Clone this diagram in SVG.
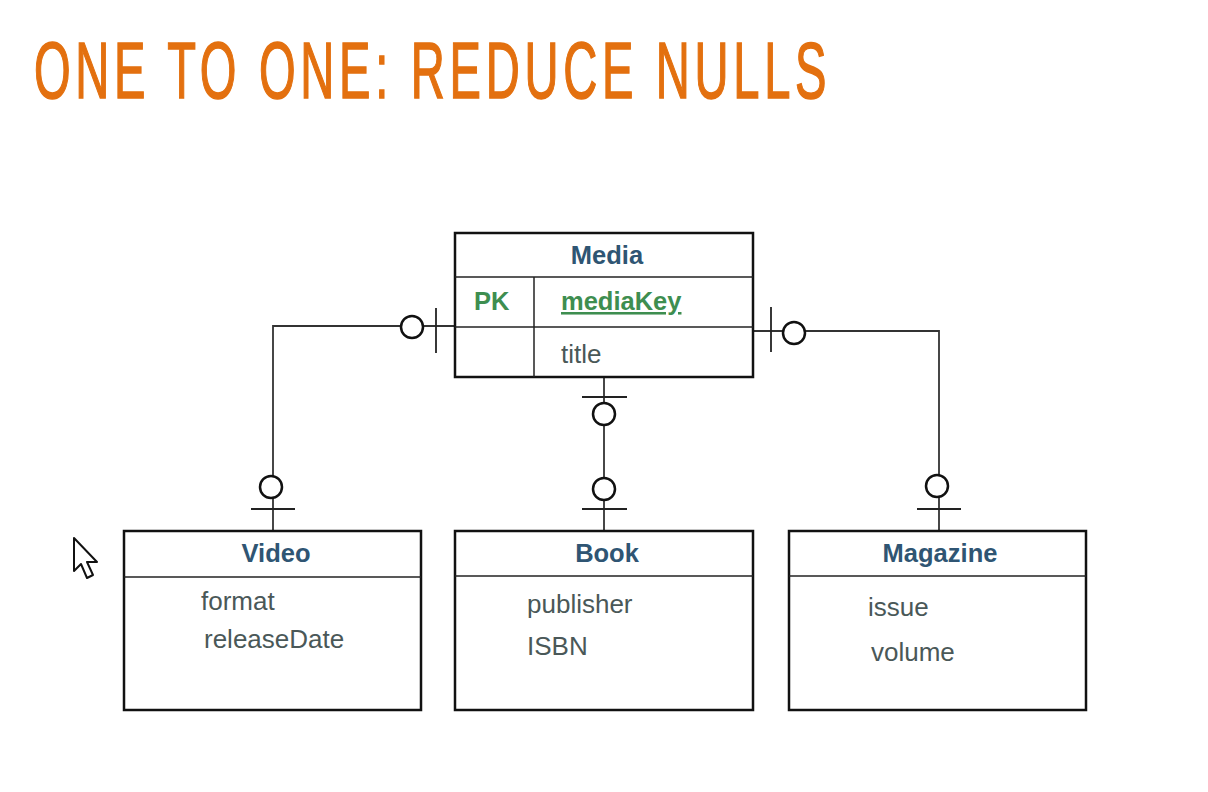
<svg xmlns="http://www.w3.org/2000/svg" width="1208" height="792" viewBox="0 0 1208 792">
<style>
.box{fill:#fff;stroke:#111;stroke-width:2.5}
.sep{stroke:#222;stroke-width:1.5;fill:none}
.hdr{font-family:"Liberation Sans",Arial,sans-serif;font-size:25.5px;font-weight:bold;fill:#2f5573;text-anchor:middle}
.attr{font-family:"Liberation Sans",Arial,sans-serif;font-size:26px;fill:#4a5858}
.pk{font-family:"Liberation Sans",Arial,sans-serif;font-size:25.5px;font-weight:bold;fill:#3e8e50}
.ln{stroke:#333;stroke-width:1.8;fill:none}
.circ{fill:#fff;stroke:#111;stroke-width:2.5}
.tick{stroke:#222;stroke-width:1.8}
</style>
<rect width="1208" height="792" fill="#fff"/>
<text transform="translate(34,98) scale(0.589,1)" x="0" y="0" font-family="'Liberation Sans',Arial,sans-serif" font-size="80" fill="#e3700f" stroke="#e3700f" stroke-width="1.5" letter-spacing="8">ONE TO ONE: REDUCE NULLS</text>

<g id="connectors">
  <polyline class="ln" points="455,326 273,326 273,531"/>
  <line class="tick" x1="436" y1="308" x2="436" y2="353"/>
  <circle class="circ" cx="412" cy="327" r="11"/>
  <line class="tick" x1="251" y1="509" x2="295" y2="509"/>
  <circle class="circ" cx="271" cy="487" r="11"/>

  <line class="ln" x1="604" y1="377" x2="604" y2="531"/>
  <line class="tick" x1="582" y1="397" x2="627" y2="397"/>
  <circle class="circ" cx="604" cy="414" r="11"/>
  <circle class="circ" cx="604" cy="489" r="11"/>
  <line class="tick" x1="582" y1="509" x2="627" y2="509"/>

  <polyline class="ln" points="753,331 939,331 939,531"/>
  <line class="tick" x1="771" y1="307" x2="771" y2="352"/>
  <circle class="circ" cx="794" cy="333" r="11"/>
  <circle class="circ" cx="937" cy="486" r="11"/>
  <line class="tick" x1="917" y1="509" x2="961" y2="509"/>
</g>

<g id="media">
  <rect class="box" x="455" y="233" width="298" height="144"/>
  <line class="sep" x1="455" y1="277" x2="753" y2="277"/>
  <line class="sep" x1="455" y1="327" x2="753" y2="327"/>
  <line class="sep" x1="534" y1="277" x2="534" y2="377"/>
  <text class="hdr" x="607" y="264">Media</text>
  <text class="pk" x="474" y="310">PK</text>
  <text class="pk" x="561" y="310" text-decoration="underline">mediaKey</text>
  <text class="attr" x="561" y="363">title</text>
</g>

<g id="video">
  <rect class="box" x="124" y="531" width="297" height="179"/>
  <line class="sep" x1="124" y1="577" x2="421" y2="577"/>
  <text class="hdr" x="276" y="562">Video</text>
  <text class="attr" x="201" y="610">format</text>
  <text class="attr" x="204" y="648">releaseDate</text>
</g>

<g id="book">
  <rect class="box" x="455" y="531" width="298" height="179"/>
  <line class="sep" x1="455" y1="576" x2="753" y2="576"/>
  <text class="hdr" x="607" y="562">Book</text>
  <text class="attr" x="527" y="613">publisher</text>
  <text class="attr" x="527" y="655">ISBN</text>
</g>

<g id="magazine">
  <rect class="box" x="789" y="531" width="297" height="179"/>
  <line class="sep" x1="789" y1="576" x2="1086" y2="576"/>
  <text class="hdr" x="940" y="562">Magazine</text>
  <text class="attr" x="868" y="616">issue</text>
  <text class="attr" x="871" y="661">volume</text>
</g>

<path d="M74,538 L74,571 L81,564 L87,578 L93,575 L87,562 L97,562 Z" fill="#fff" stroke="#111" stroke-width="2" stroke-linejoin="round"/>
</svg>
